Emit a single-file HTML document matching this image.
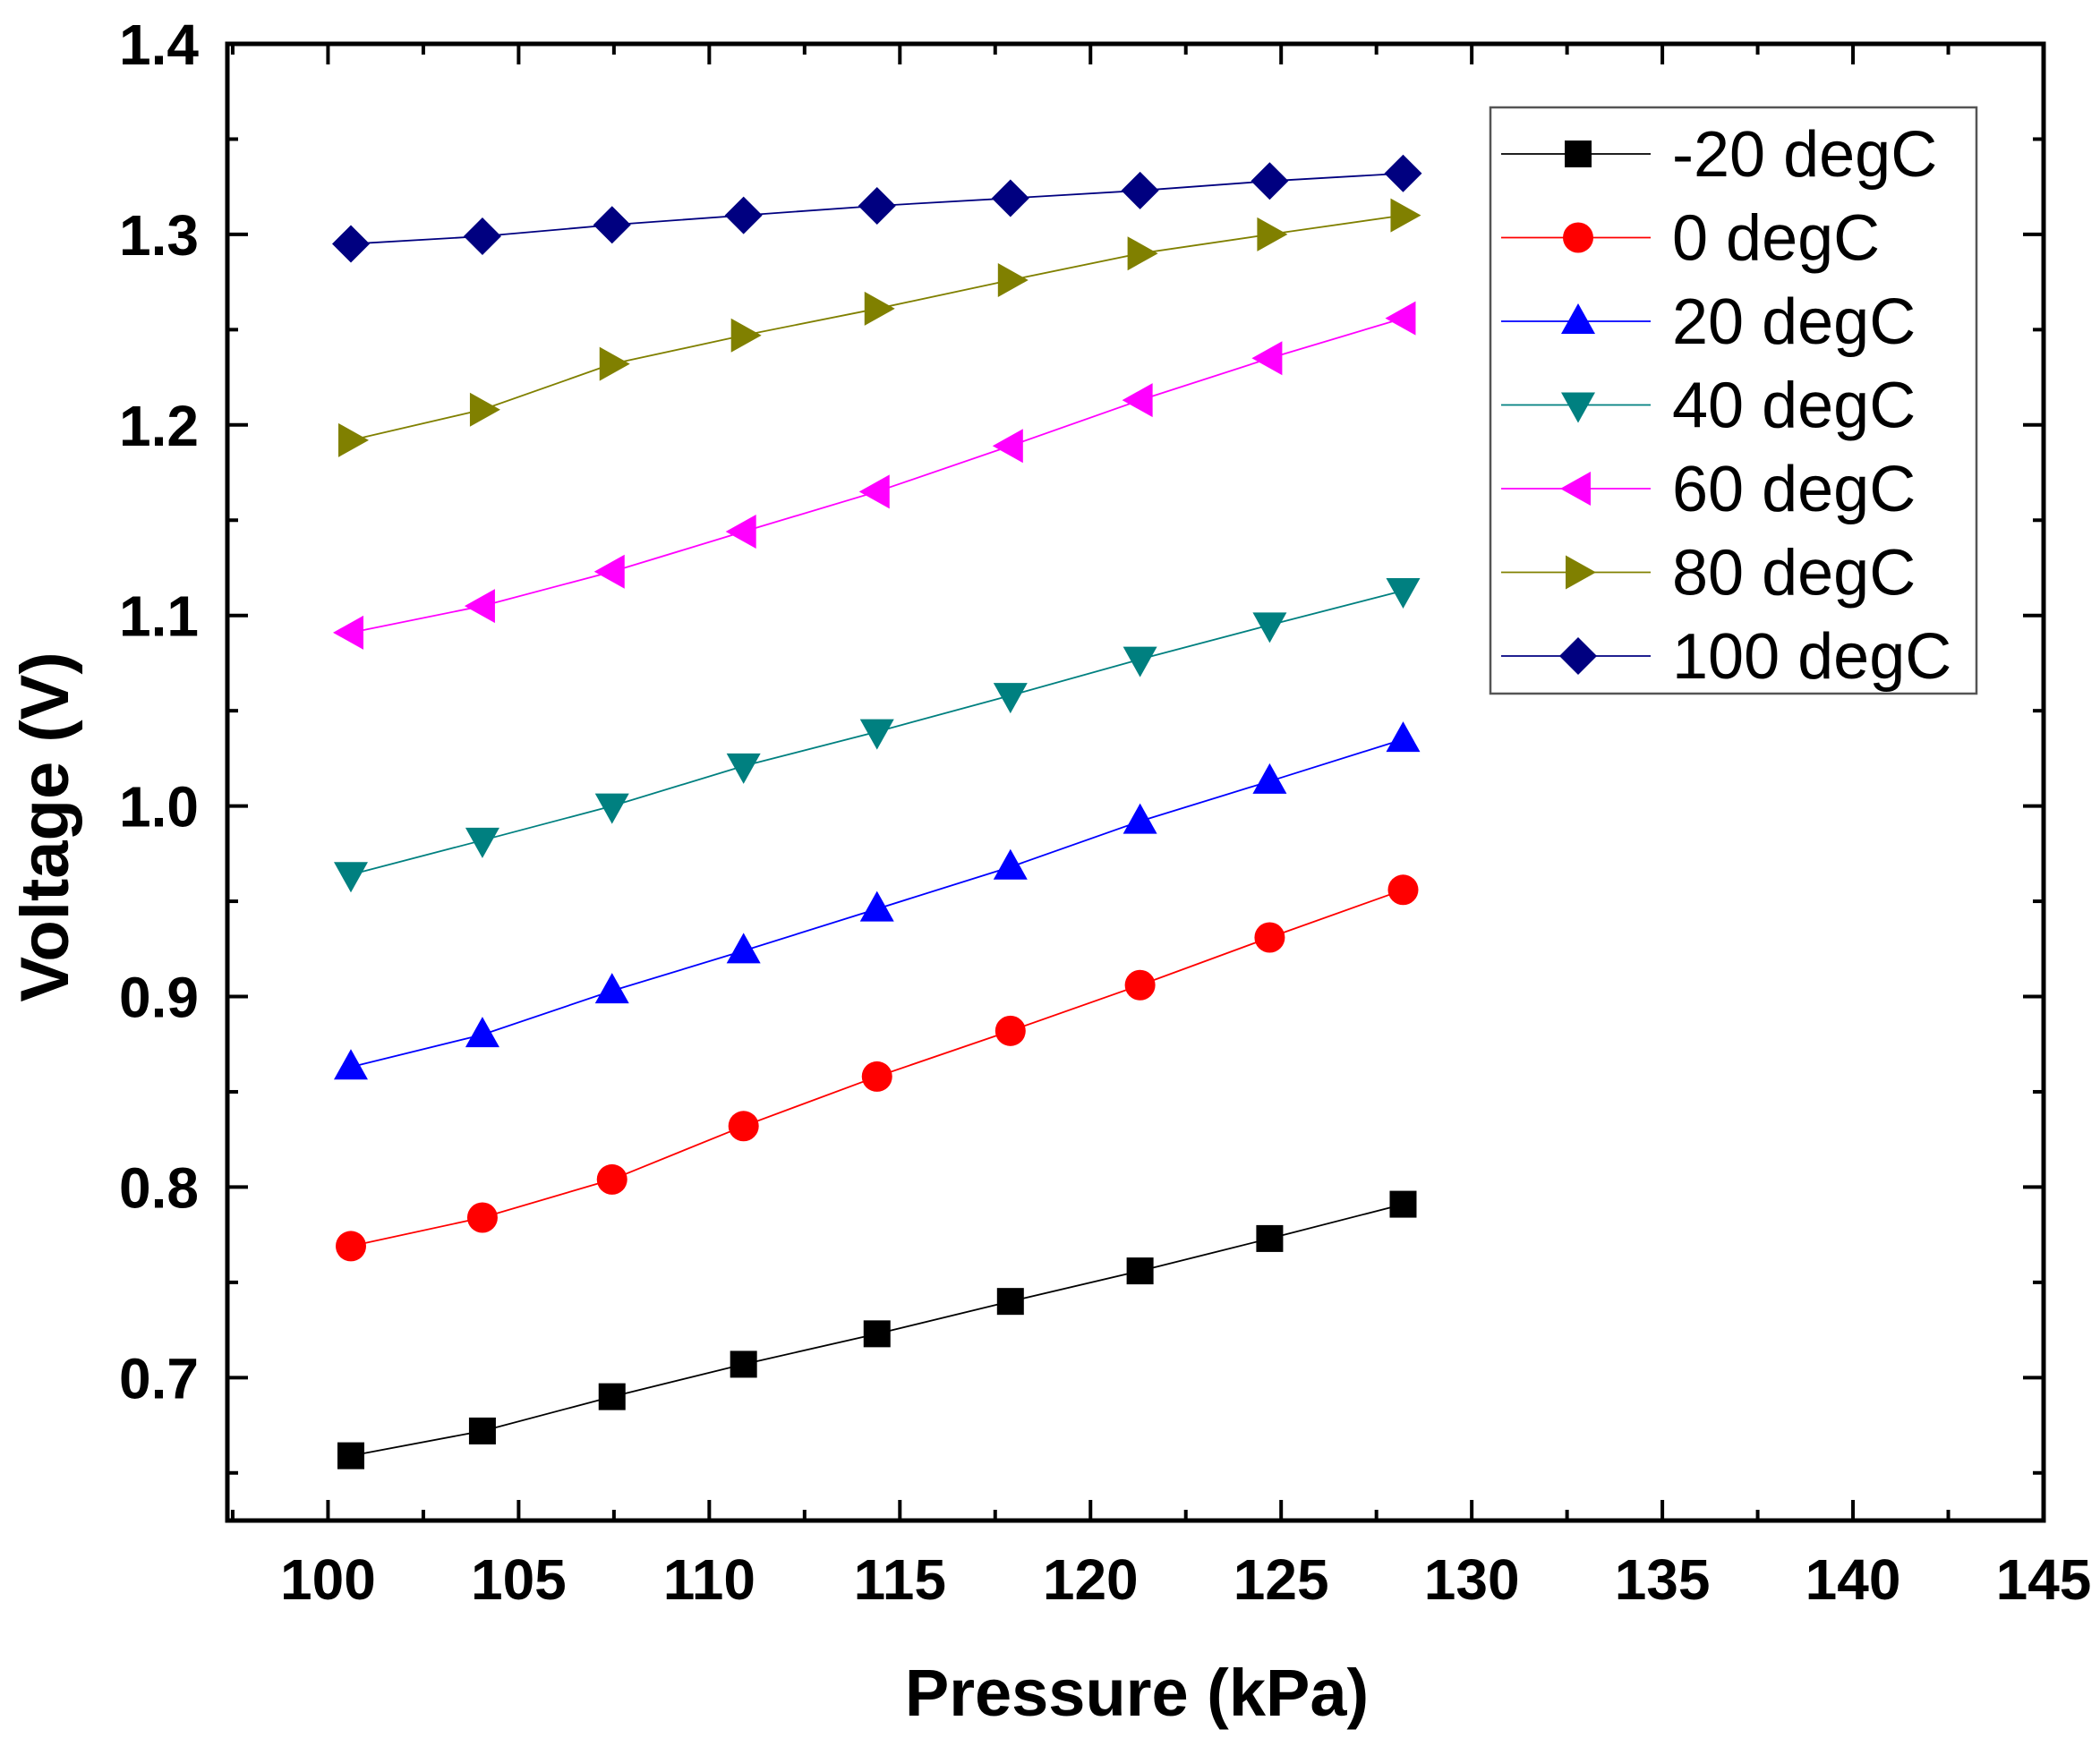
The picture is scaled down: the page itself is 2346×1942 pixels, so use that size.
<!DOCTYPE html>
<html><head><meta charset="utf-8"><style>
html,body{margin:0;padding:0;background:#fff;}
svg{display:block;font-family:"Liberation Sans",Arial,sans-serif;}
</style></head><body>
<svg id="chart" width="2346" height="1942" viewBox="0 0 2346 1942" xmlns="http://www.w3.org/2000/svg">
<g id="grid-layer"></g>
<g id="series-layer"></g>
<g id="axis-layer"></g>
<g id="legend-layer"></g>
<text x="1270" y="1917" font-size="74" font-weight="bold" text-anchor="middle">Pressure (kPa)</text>
<text transform="translate(76,924) rotate(-90)" font-size="76" font-weight="bold" text-anchor="middle">Voltage (V)</text>
</svg>
<script>
const pressures = [100.6, 104.05, 107.45, 110.9, 114.4, 117.9, 121.3, 124.7, 128.2];
const vM20 = [0.659, 0.672, 0.690, 0.707, 0.723, 0.740, 0.756, 0.773, 0.791];
const v0 = [0.769, 0.784, 0.804, 0.832, 0.858, 0.882, 0.906, 0.931, 0.956];
const v20 = [0.863, 0.880, 0.903, 0.924, 0.946, 0.968, 0.992, 1.013, 1.035];
const v40 = [0.964, 0.982, 1.000, 1.021, 1.039, 1.058, 1.077, 1.095, 1.113];
const v60 = [1.091, 1.105, 1.123, 1.144, 1.165, 1.189, 1.213, 1.235, 1.256];
const v80 = [1.192, 1.208, 1.232, 1.247, 1.261, 1.276, 1.290, 1.300, 1.310];
const v100 = [1.295, 1.299, 1.305, 1.310, 1.315, 1.319, 1.323, 1.328, 1.332];
const seriesLabels = ["-20 degC", "0 degC", "20 degC", "40 degC", "60 degC", "80 degC", "100 degC"];
const xTicks = [100, 105, 110, 115, 120, 125, 130, 135, 140, 145];
const yTicks = [0.7, 0.8, 0.9, 1.0, 1.1, 1.2, 1.3, 1.4];

const NS = "http://www.w3.org/2000/svg";
const L = 254, R = 2283, T = 49, B = 1699;
const XMIN = 97.36, XMAX = 145, YMIN = 0.625, YMAX = 1.4;
const sx = v => L + (v - XMIN) / (XMAX - XMIN) * (R - L);
const sy = v => B - (v - YMIN) / (YMAX - YMIN) * (B - T);
function mk(tag, attrs, parent) {
  const e = document.createElementNS(NS, tag);
  for (const k in attrs) e.setAttribute(k, attrs[k]);
  parent.appendChild(e);
  return e;
}
const series = [
  {vals: vM20, color: "#000000", shape: "square"},
  {vals: v0, color: "#ff0000", shape: "circle"},
  {vals: v20, color: "#0000ff", shape: "up"},
  {vals: v40, color: "#008080", shape: "down"},
  {vals: v60, color: "#ff00ff", shape: "left"},
  {vals: v80, color: "#808000", shape: "right"},
  {vals: v100, color: "#000080", shape: "diamond"}
];
function marker(parent, shape, x, y, color) {
  let e;
  if (shape === "square") e = mk("rect", {x: x - 15, y: y - 15, width: 30, height: 30, fill: color}, parent);
  else if (shape === "circle") e = mk("circle", {cx: x, cy: y, r: 17, fill: color}, parent);
  else {
    let p;
    if (shape === "up") p = [[x, y - 20], [x + 19, y + 14], [x - 19, y + 14]];
    if (shape === "down") p = [[x, y + 20], [x + 19, y - 14], [x - 19, y - 14]];
    if (shape === "left") p = [[x - 20, y], [x + 14, y - 19], [x + 14, y + 19]];
    if (shape === "right") p = [[x + 20, y], [x - 14, y - 19], [x - 14, y + 19]];
    if (shape === "diamond") p = [[x, y - 21], [x + 21, y], [x, y + 21], [x - 21, y]];
    e = mk("polygon", {points: p.map(q => q.join(",")).join(" "), fill: color}, parent);
  }
  return e;
}
const sl = document.getElementById("series-layer");
series.forEach((s, i) => {
  const g = mk("g", {}, sl);
  
  
  const line = mk("polyline", {points: pressures.map((p, j) => sx(p) + "," + sy(s.vals[j])).join(" "), fill: "none", stroke: s.color, "stroke-width": 1.8}, g);
  
  
  pressures.forEach((p, j) => {
    const m = marker(g, s.shape, sx(p), sy(s.vals[j]), s.color);
    
    
  });
});
const al = document.getElementById("axis-layer");
const frame = mk("rect", {x: L, y: T, width: R - L, height: B - T, fill: "none", stroke: "#000", "stroke-width": 5}, al);


for (let v = 97.5; v <= 145.01; v += 2.5) {
  const major = Math.abs(v / 5 - Math.round(v / 5)) < 1e-6;
  const len = major ? 23 : 12;
  const x = sx(v);
  const t1 = mk("line", {x1: x, y1: B, x2: x, y2: B - len, stroke: "#000", "stroke-width": 4}, al);
  
  
  const t2 = mk("line", {x1: x, y1: T, x2: x, y2: T + len, stroke: "#000", "stroke-width": 4}, al);
  
  
}
xTicks.forEach(v => {
  const t = mk("text", {x: sx(v), y: 1787, "font-size": 64, "font-weight": "bold", "text-anchor": "middle"}, al);
  t.textContent = v;
  
  
});
for (let v = 0.65; v <= 1.4001; v += 0.05) {
  const major = Math.abs(v * 10 - Math.round(v * 10)) < 1e-6;
  const len = major ? 23 : 12;
  const y = sy(v);
  const t1 = mk("line", {x1: L, y1: y, x2: L + len, y2: y, stroke: "#000", "stroke-width": 4}, al);
  
  
  const t2 = mk("line", {x1: R, y1: y, x2: R - len, y2: y, stroke: "#000", "stroke-width": 4}, al);
  
  
}
yTicks.forEach(v => {
  const t = mk("text", {x: 222, y: sy(v) + 23, "font-size": 64, "font-weight": "bold", "text-anchor": "end"}, al);
  t.textContent = v.toFixed(1);
  
  
});
const ll = document.getElementById("legend-layer");
const box = mk("rect", {x: 1665, y: 120, width: 543, height: 655, fill: "#fff", stroke: "#555", "stroke-width": 2.5}, ll);


series.forEach((s, i) => {
  const y = 172 + i * 93.5;
  const g = mk("g", {}, ll);
  
  
  mk("line", {x1: 1677, y1: y, x2: 1844, y2: y, stroke: s.color, "stroke-width": 1.8}, g);
  marker(g, s.shape, 1763, y, s.color);
  const t = mk("text", {x: 1868, y: y + 25, "font-size": 72}, g);
  t.textContent = seriesLabels[i];
});
</script>
</body></html>
